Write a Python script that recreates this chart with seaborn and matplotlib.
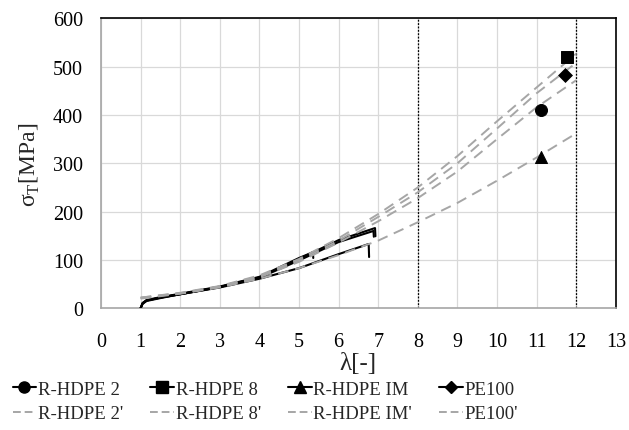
import numpy as np
import pandas as pd
import matplotlib
matplotlib.use("Agg")
import matplotlib.pyplot as plt
from matplotlib.lines import Line2D
import seaborn as sns

# ---- data ----
names = ["R-HDPE 2", "R-HDPE 8", "R-HDPE IM", "PE100"]
markers = ["o", "s", "^", "D"]

# experimental curves (black solid)
exp_lam = {
    "R-HDPE 2":  [1.0, 1.05, 1.15, 1.5, 2.0, 3.0, 4.0, 5.0, 6.0, 6.92, 6.93],
    "R-HDPE 8":  [1.0, 1.05, 1.15, 1.5, 2.0, 3.0, 4.0, 5.0, 5.35, 5.36],
    "R-HDPE IM": [1.0, 1.05, 1.15, 1.5, 2.0, 3.0, 4.0, 5.0, 6.0, 6.76, 6.77],
    "PE100":     [1.0, 1.05, 1.15, 1.5, 2.0, 3.0, 4.0, 5.0, 6.0, 6.88, 6.89],
}
exp_sig = {
    "R-HDPE 2":  [0, 10, 16, 22, 29, 44, 64, 102, 141, 166, 149],
    "R-HDPE 8":  [0, 11, 17, 23, 30, 45, 65, 104, 116, 104],
    "R-HDPE IM": [0, 9, 15, 21, 29, 43, 61, 83, 112, 133, 106],
    "PE100":     [0, 10, 16, 22, 29, 44, 63, 99, 137, 160, 148],
}

# end points (markers)
pt_lam = [11.12, 11.77, 11.10, 11.72]
pt_sig = [411, 520, 313, 483]

# fitted curves (grey dashed)
fit_lam = [1, 2, 3, 4, 5, 6, 7, 8, 9, 10, 11, 12]
fit_sig = {
    "R-HDPE 2'":  [21, 31, 44, 64, 96, 136, 180, 228, 283, 350, 416, 472],
    "R-HDPE 8'":  [22, 32, 46, 68, 102, 145, 195, 250, 315, 387, 457, 527],
    "R-HDPE IM'": [20, 30, 43, 61, 83, 110, 140, 178, 218, 264, 312, 362],
    "PE100'":     [22, 31, 45, 66, 99, 140, 189, 240, 300, 372, 445, 508],
}

x_ticks = list(range(0, 14))
y_ticks = list(range(0, 700, 100))
vlines = [8, 12]

# ---- plotting ----
sns.set_theme(style="white")
plt.rcParams["font.family"] = ["Liberation Serif", "DejaVu Serif"]
plt.rcParams["mathtext.fontset"] = "custom"
plt.rcParams["mathtext.rm"] = "Liberation Serif"

fig = plt.figure(figsize=(6.29, 4.31), dpi=100)
ax = fig.add_axes([0.1606, 0.2825, 0.8184, 0.6725])

ax.set_xlim(0, 13)
ax.set_ylim(0, 600)
ax.set_xticks(x_ticks)
ax.set_yticks(y_ticks)
ax.grid(True, color="#d9d9d9", lw=0.9)
ax.set_axisbelow(True)

for x in vlines:
    ax.axvline(x, color="black", lw=0.9, ls=(0, (1.5, 1.2)), zorder=2)

for n in names:
    df = pd.DataFrame({"lam": exp_lam[n], "sig": exp_sig[n]})
    sns.lineplot(data=df, x="lam", y="sig", sort=False, estimator=None,
                 color="black", lw=1.5, ax=ax, zorder=3)

fit_names = list(fit_sig.keys())
for n in fit_names:
    df = pd.DataFrame({"lam": fit_lam, "sig": fit_sig[n]})
    sns.lineplot(data=df, x="lam", y="sig", sort=False, estimator=None,
                 color="#a6a6a6", lw=1.4, ax=ax, zorder=4,
                 dashes=False, linestyle=(0, (5.5, 3.5)))

for i, n in enumerate(names):
    ms = 75 if markers[i] != "D" else 50
    sns.scatterplot(x=[pt_lam[i]], y=[pt_sig[i]], marker=markers[i], s=ms,
                    color="black", edgecolor="black", ax=ax, zorder=5)

for s in ["left", "bottom"]:
    ax.spines[s].set_color("#a6a6a6")
    ax.spines[s].set_linewidth(1.2)
for s in ["top", "right"]:
    ax.spines[s].set_color("black")
    ax.spines[s].set_linewidth(1.2)

ax.tick_params(axis="both", length=0, labelsize=14.5, colors="black")
ax.tick_params(axis="x", pad=17)
ax.tick_params(axis="y", pad=13)
ax.set_xlabel("λ[-]", fontsize=18, labelpad=1)
ax.set_ylabel(r"σ$_\mathregular{T}$[MPa]", fontsize=17, labelpad=8)

handles = []
labels = []
for i, n in enumerate(names):
    handles.append(Line2D([], [], color="black", lw=1.5, marker=markers[i],
                          markersize=8 if markers[i] != "D" else 6.5))
    labels.append(n)
    handles.append(Line2D([], [], color="#a6a6a6", lw=1.4, ls=(0, (4, 2))))
    labels.append(fit_names[i])

leg = fig.legend(handles, labels, ncol=4, loc="upper center",
                 bbox_to_anchor=(0.422, 0.114), frameon=False,
                 fontsize=13.5, handlelength=1.25, handletextpad=0.1,
                 columnspacing=1.45, labelspacing=0.38, borderaxespad=0,
                 borderpad=0)

fig.savefig("out.png", dpi=100)
